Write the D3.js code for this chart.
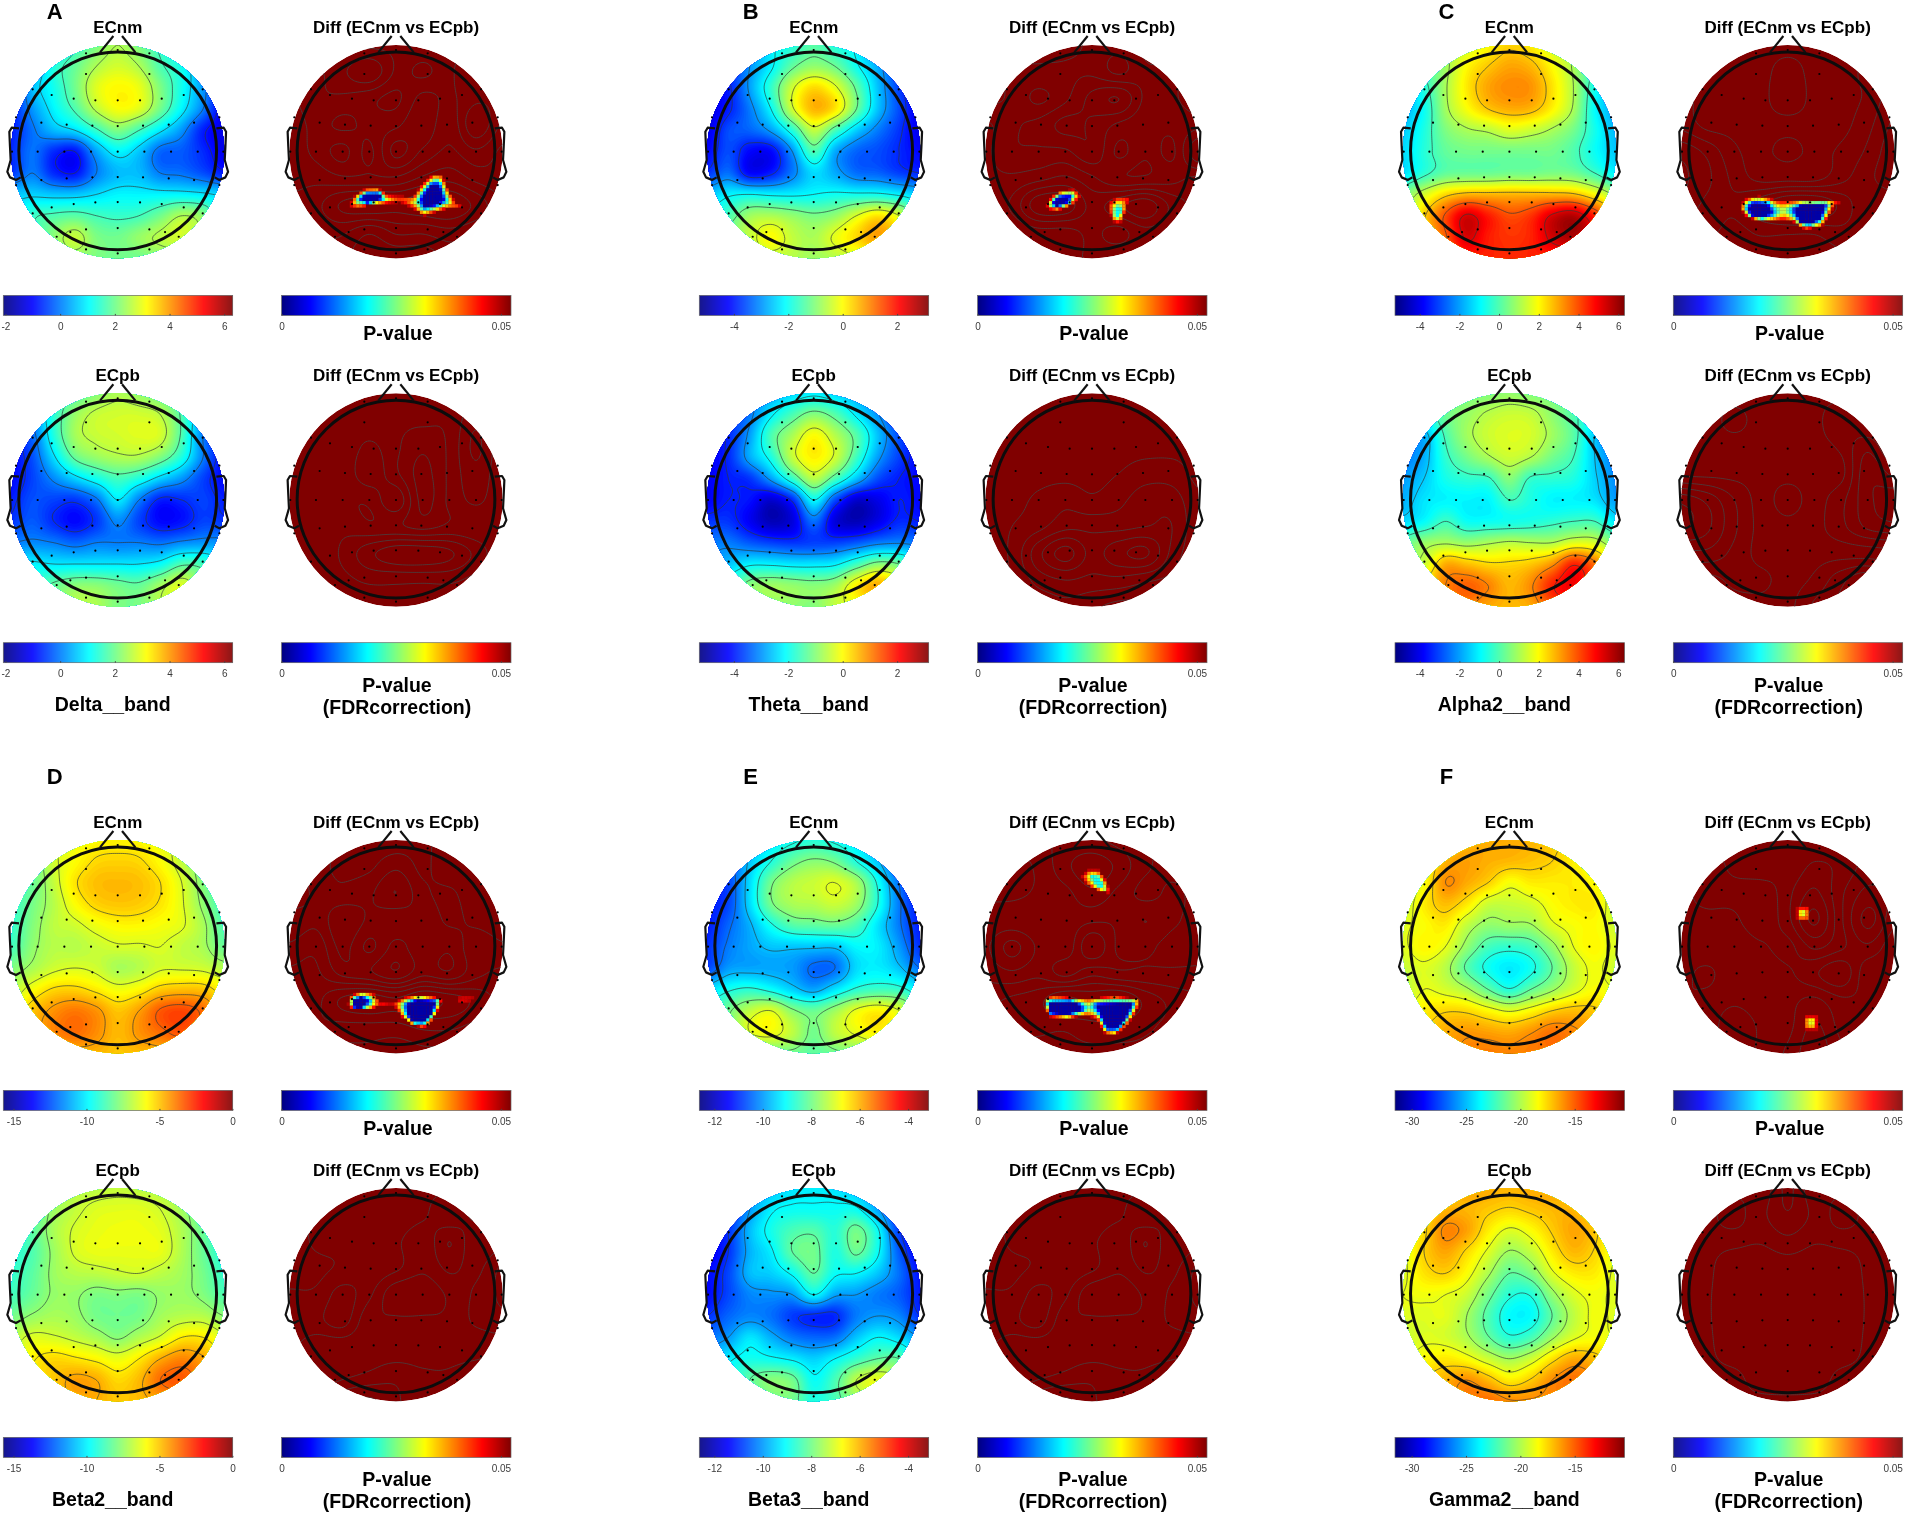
<!DOCTYPE html>
<html>
<head>
<meta charset="utf-8">
<script src="https://cdn.jsdelivr.net/npm/d3@7"></script>
<style>
  body { margin: 0; background: #fff; }
  svg { filter: blur(0.35px); }
  text { font-family: "Liberation Sans", Arial, sans-serif; fill: #000; }
</style>
</head>
<body>
<svg id="chart" width="1905" height="1515"></svg>
<script>
// bands
const panelLetters = ["A", "B", "C", "D", "E", "F"];
const bandNames = ["Delta__band", "Theta__band", "Alpha2__band", "Beta2__band", "Beta3__band", "Gamma2__band"];
const bandDomains = [[-2.08, 6.31], [-5.27, 3.16], [-5.24, 6.31], [-15.7, 0.02], [-12.62, -3.15], [-31.53, -10.43]];
const bandTicks = [[-2, 0, 2, 4, 6], [-4, -2, 0, 2], [-4, -2, 0, 2, 4, 6], [-15, -10, -5, 0], [-12, -10, -8, -6, -4], [-30, -25, -20, -15]];
const pDomain = [0, 0.0523];
const pTicks = [0, 0.05];

// scalp values, 11 x 11 samples across the disc, top row = nose side
const deltaNm = [
  [0, 0.3, 0.8, 1.5, 2.1, 2.5, 2.1, 1.5, 1, 0.4, 0],
  [-0.5, 0.2, 1.3, 1.9, 2.5, 2.8, 2.5, 1.7, 1.2, 0.2, -0.5],
  [-1, 0.5, 1.2, 2, 2.9, 3.2, 3, 2.1, 1.2, 0.2, -1],
  [-0.8, 0.2, 1, 1.7, 2.6, 3.1, 2.9, 2, 1, 0, -1.2],
  [-0.8, -0.1, 0.5, 0.8, 1.5, 2.1, 1.6, 0.9, 0.2, -0.8, -1.2],
  [-0.7, -0.1, -0.7, -0.9, 0.3, 1, 0.6, -0.2, -0.3, -0.7, -1.2],
  [-0.6, 0, -0.7, -0.9, 0, 0.5, 0.5, 0, -0.1, -0.4, -0.8],
  [0.6, 0.7, 0.6, 0.6, 0.8, 1, 1, 1, 1, 0.9, 0.7],
  [0.8, 1.5, 1.7, 1.8, 1.6, 1.5, 1.6, 2, 2.5, 2.2, 1],
  [1.2, 1.5, 2.2, 2.7, 2.1, 2, 2.3, 2.6, 2.8, 2.3, 1.5],
  [1.5, 1.8, 2, 2.3, 2.1, 2, 2, 2.2, 2.2, 2, 1.8]
];
const deltaPb = [
  [0.8, 1, 1.4, 1.8, 2.2, 2.5, 2.3, 2, 1.6, 1, 0.8],
  [-0.3, 0.2, 1.4, 2.3, 2.7, 2.8, 2.8, 2.6, 1.7, 0.3, -0.4],
  [-0.8, -0.2, 1.3, 2.4, 2.7, 2.8, 2.9, 2.8, 1.7, 0, -0.8],
  [-1, -0.4, 0.8, 1.9, 2.3, 2.5, 2.5, 2.1, 1.3, 0, -1],
  [-1, -0.5, 0.1, 0.7, 1.2, 1.6, 1.3, 0.7, 0.2, -0.5, -1],
  [-0.8, -0.4, -0.5, -0.6, -0.1, 0.9, 0, -0.8, -0.7, -0.5, -0.8],
  [-0.6, -0.3, -0.7, -1, -0.6, 0.1, -0.5, -1, -0.9, -0.5, -0.6],
  [0, 0.1, 0, -0.2, 0, 0, 0, -0.1, 0.1, 0.2, 0.2],
  [1, 1, 0.9, 0.9, 0.9, 0.9, 0.9, 1.1, 1.7, 1.6, 1],
  [1.5, 1.5, 1.9, 2.2, 2.2, 2, 1.9, 2.4, 2.9, 2.2, 1.5],
  [1.8, 1.9, 2.1, 2.6, 2.5, 2.1, 2.1, 2.6, 2.9, 2.4, 1.8]
];
const thetaNm = [
  [-4, -3.8, -3, -2.2, -1.8, -1.4, -1.8, -2.2, -3, -3.8, -4],
  [-4, -3.8, -3, -2.2, -1.3, -0.9, -1.2, -2, -2.8, -3.7, -4.2],
  [-4.3, -4, -2.9, -1.7, -0.4, 0.3, -0.2, -1.3, -2.6, -3.7, -4.4],
  [-4.5, -4, -3.2, -2.1, -0.4, 0.6, 0.2, -1.2, -2.6, -3.6, -4.4],
  [-4.4, -3.6, -3.4, -2.9, -1.8, -0.5, -1.5, -2.5, -3.2, -3.8, -4.4],
  [-4.2, -3.6, -4.2, -4.2, -3, -1.5, -2.8, -3.4, -3.6, -3.9, -4.2],
  [-3.8, -3.3, -4.2, -4, -3.2, -2.4, -2.8, -3.3, -3.4, -3.7, -3.9],
  [-2.6, -2.2, -2.1, -2.2, -2.2, -2.1, -2, -2, -2, -2.2, -2.5],
  [-2, -1.5, -0.8, -0.7, -0.9, -1.1, -0.9, -0.3, 0.2, -0.3, -1.5],
  [-1.5, -1, -0.5, 0, -0.5, -0.7, -0.2, 0.3, 0.8, 0.3, -1],
  [-1.2, -1, -0.7, -0.5, -0.6, -0.8, -0.6, -0.3, 0, -0.5, -1]
];
const thetaPb = [
  [-3.8, -3.6, -3.2, -2.8, -2.4, -2.2, -2.4, -2.8, -3.2, -3.6, -3.8],
  [-4.1, -3.8, -3.2, -2.2, -1.5, -1, -1.4, -2.2, -3, -3.7, -4.1],
  [-4.3, -3.9, -2.9, -1.5, -0.7, 0, -0.6, -1.4, -2.6, -3.6, -4.2],
  [-4.3, -3.9, -2.8, -1.9, -0.5, 0.1, -0.4, -1.6, -2.9, -3.7, -4.2],
  [-4.3, -4, -3.8, -2.9, -1.7, -0.6, -1.5, -2.6, -3.6, -4, -4.2],
  [-4.3, -4, -4.1, -4.6, -3.9, -2.1, -3.6, -4.6, -4.4, -4, -4.2],
  [-3.8, -3.8, -4.3, -4.8, -4.5, -3.3, -4.5, -4.8, -4.4, -3.9, -4],
  [-3.2, -3.2, -3.5, -3.7, -3.8, -3.7, -3.7, -3.5, -3.2, -3.1, -3.2],
  [-3, -2.6, -2.2, -2.2, -2.3, -2.3, -2.2, -1.6, -1, -1.2, -2],
  [-2, -1.7, -1, -0.8, -0.9, -1, -0.8, 0.1, 0.7, 0, -1.5],
  [-1.5, -1.3, -1.1, -0.9, -0.9, -1, -0.5, -0.1, 0.2, -0.6, -1.2]
];
const alphaNm = [
  [0, 0.5, 1, 1.5, 2, 2.5, 2.2, 1.5, 1, 0.3, -0.3],
  [-0.8, 0, 0.9, 2, 2.6, 3, 2.8, 2, 1, -0.2, -1],
  [-1.6, -0.5, 1, 2.2, 3, 3.3, 3.2, 2.3, 1.1, -0.7, -1.7],
  [-1.8, -0.8, 0.9, 1.9, 2.6, 2.9, 2.8, 2.1, 1, -0.9, -1.9],
  [-1.5, -0.6, 0.5, 1, 1.2, 1.6, 1.4, 1, 0.4, -0.7, -1.7],
  [-1.3, -0.5, 0.2, 0.4, 0.4, 0.4, 0.4, 0.4, 0, -0.8, -1.5],
  [-1.2, -0.4, 0.2, 0.3, 0.3, 0.4, 0.4, 0.5, 0.4, -0.2, -1],
  [0.5, 1.5, 2.4, 2.8, 2.8, 2.8, 2.8, 2.8, 2.7, 2, 1],
  [1, 2.5, 4, 5.3, 4.6, 4, 4.3, 5.3, 5.7, 4.5, 3],
  [1.5, 2.5, 3.8, 5.3, 4.6, 4.3, 4.5, 5.4, 5.8, 5, 3],
  [2.5, 3, 3.7, 4.4, 4.5, 4.4, 4.5, 4.5, 4.5, 3.5, 2.5]
];
const alphaPb = [
  [-0.3, 0, 0.3, 0.5, 0.6, 0.8, 0.6, 0.5, 0.3, 0, -0.3],
  [-1.5, -0.7, 0.3, 0.8, 1.2, 1.4, 1.3, 0.7, 0, -0.8, -1.5],
  [-2.2, -1.8, -0.1, 0.9, 1.4, 1.6, 1.5, 0.9, 0.1, -1.5, -2.3],
  [-2.4, -1.8, -0.4, 0.4, 1, 1.4, 1.1, 0.4, -0.2, -1.5, -2.4],
  [-2, -1.5, -0.7, -0.4, -0.3, 0.6, -0.3, -0.4, -0.6, -1.4, -2.2],
  [-1.8, -1.2, -1, -1, -1, -0.2, -0.6, -1, -1, -1.2, -2],
  [-1.3, -0.9, -0.2, -0.8, -0.8, -0.7, -0.6, -0.4, -0.2, -0.2, -1.1],
  [0.2, 0.8, 1, 0.8, 1, 1.2, 1.1, 1.1, 1.6, 1.5, 0.5],
  [1, 1.4, 2.9, 2.7, 2.4, 2.4, 2.6, 3.2, 4.5, 3.6, 2],
  [2, 2.5, 3.4, 3.8, 3.4, 2.8, 3.3, 4.5, 5, 4, 2.5],
  [2.5, 2.8, 3.3, 3.5, 3, 2.8, 3, 4, 4.5, 3.5, 2.5]
];
const beta2Nm = [
  [-7.5, -7, -6.5, -6.1, -5.8, -5.7, -5.8, -6.1, -6.6, -7.2, -7.6],
  [-8.5, -8, -6.6, -5.9, -5.3, -5.2, -5.3, -5.9, -6.8, -7.8, -8.5],
  [-8.8, -8.2, -6.8, -5.5, -4.9, -4.8, -4.9, -5.4, -6.4, -7.8, -8.8],
  [-9, -8, -7, -5.9, -5.2, -5, -5.1, -5.5, -6.3, -7.6, -8.8],
  [-9, -7.8, -6.9, -6.6, -6.1, -5.8, -5.8, -6, -6.3, -7.2, -8.6],
  [-8.8, -7.6, -7, -7, -6.7, -6.5, -6.5, -6.4, -6.8, -7.2, -8.2],
  [-7.8, -7.2, -6.6, -6.4, -6.6, -7.2, -7, -6.5, -6.5, -6.6, -7],
  [-7, -6, -5.3, -5.2, -5.6, -6.1, -5.8, -5.1, -4.9, -5, -5.8],
  [-6, -5, -4.2, -3.8, -4.2, -5, -4.4, -3.3, -3, -3.6, -5],
  [-5.5, -4.8, -4, -3.6, -4.1, -4.8, -4.2, -3.6, -3.2, -4, -5],
  [-6, -5.5, -5, -4.7, -4.7, -5, -4.8, -4.7, -4.4, -5, -6]
];
const beta2Pb = [
  [-7.6, -7.4, -7.2, -7, -6.9, -6.8, -6.9, -7, -7.2, -7.4, -7.6],
  [-8.5, -8.2, -7.4, -6.8, -6.4, -6.3, -6.3, -6.6, -7.3, -8.2, -8.8],
  [-9, -8.4, -7.2, -6.5, -6.2, -6.1, -6.1, -6.3, -7.1, -8.2, -9],
  [-9.2, -8.6, -7.4, -6.5, -6.2, -6.2, -6.2, -6.2, -7.1, -8.2, -9.2],
  [-9, -8.4, -7.4, -7, -6.9, -6.7, -6.6, -6.9, -7.3, -8, -9],
  [-8.8, -8.2, -7.5, -7.5, -7.9, -7.8, -7.9, -7.5, -7.4, -7.8, -8.6],
  [-8, -7.5, -7.2, -7.4, -8, -8.1, -8, -7.3, -7, -7, -7.6],
  [-7, -6.4, -6.5, -6.8, -7.2, -7.7, -7.1, -6.5, -5.6, -5.6, -6.4],
  [-6.5, -5.7, -5.3, -5.5, -5.8, -6.2, -5.6, -4.6, -4, -4.5, -5.5],
  [-6, -5.5, -5, -4.4, -4.6, -5.3, -4.8, -3.6, -3.3, -4, -5.2],
  [-6, -5.5, -5, -4.6, -4.6, -5, -4.8, -4.4, -4, -4.6, -5.5]
];
const beta3Nm = [
  [-10.4, -10, -9.6, -9.2, -8.9, -8.7, -8.9, -9.2, -9.6, -10, -10.6],
  [-11, -10.6, -9.6, -8.8, -8.1, -7.8, -8, -8.8, -9.6, -10.6, -11.2],
  [-11.2, -10.8, -9.4, -8, -7.4, -7.2, -7, -7.5, -8.9, -10.4, -11.3],
  [-11.2, -10.8, -9.4, -8, -7.5, -7.4, -7.2, -7.6, -8.8, -10.3, -11.2],
  [-11.2, -10.5, -9.8, -8.9, -8.3, -8.2, -8.1, -8.4, -9.3, -10.3, -11.2],
  [-11, -10.3, -9.9, -9.6, -9.6, -9.6, -9.6, -9.1, -9.2, -10, -11],
  [-10.8, -10, -9.9, -9.9, -10, -10.5, -10.4, -9.4, -9.2, -9.6, -10.4],
  [-9.4, -8.9, -8.7, -9, -9.5, -9.9, -9.3, -8.7, -8.5, -8.6, -9.2],
  [-8.6, -8, -7.3, -7, -7.8, -8.1, -7.6, -6.9, -6.6, -7, -8],
  [-8.5, -8, -7, -6.8, -7.3, -8, -7.3, -6.9, -6.6, -7, -8],
  [-9, -8.6, -8.2, -8, -8, -8.2, -8, -7.8, -7.6, -8, -8.8]
];
const beta3Pb = [
  [-10.4, -10.2, -10, -9.6, -9.3, -9.2, -9.3, -9.6, -10, -10.4, -10.8],
  [-11.4, -11, -10, -9.2, -9, -9, -9, -9, -9.9, -11, -11.5],
  [-11.6, -11, -9.7, -8.9, -8.4, -8.3, -8.7, -8, -9, -10.9, -11.6],
  [-11.6, -11, -9.8, -9.2, -8.2, -8, -8.8, -8.1, -9, -10.6, -11.5],
  [-11.4, -10.8, -9.7, -9.5, -9, -8.2, -9, -9.1, -9.6, -10.4, -11.3],
  [-11.4, -10.8, -10.2, -10.1, -10, -9.1, -9.9, -10, -10.3, -10.6, -11.2],
  [-11, -10.5, -10.2, -10.4, -10.9, -11.1, -11.1, -10.3, -10, -10.2, -11],
  [-10.4, -10, -9.3, -9.8, -10.3, -10.5, -10.4, -9.6, -9.1, -9.4, -10],
  [-9.6, -9.2, -8.9, -9, -9.2, -9.5, -9.1, -8.6, -8.2, -8.2, -9.2],
  [-9.2, -8.9, -8.2, -7.8, -8, -9, -8.4, -7.3, -6.9, -7.4, -8.6],
  [-9.2, -9, -8.6, -8, -8, -8.8, -8.4, -7.7, -7.3, -8, -9]
];
const gammaNm = [
  [-18.5, -18, -17.2, -16.8, -16.6, -16.6, -16.8, -17.2, -17.6, -18, -18.8],
  [-19, -18.5, -16.8, -16.4, -16.7, -16.9, -17.1, -17.4, -18, -18.4, -19],
  [-19.5, -18.5, -16, -16.6, -17.4, -18.5, -18, -18, -18, -18.3, -19.3],
  [-19.5, -18, -17, -17.9, -19.4, -19.5, -19.2, -18.4, -18, -18, -19.5],
  [-19, -18.4, -18, -19.6, -20.6, -20.4, -20.3, -19, -18.5, -18.3, -19.4],
  [-19, -18.2, -18.8, -20.6, -22.2, -22.6, -22.2, -20.6, -18.8, -18.2, -19],
  [-19.5, -19, -19.8, -21.8, -23.3, -24, -23.3, -21.6, -19.6, -18.6, -19.4],
  [-19.8, -18.8, -19.2, -20, -21.6, -22.9, -21.6, -20.4, -19.2, -18.4, -18.8],
  [-18.8, -18, -17.5, -17.6, -18.3, -18.9, -18.3, -17.4, -17, -17.2, -18],
  [-18, -17.4, -16.6, -16.2, -16.4, -16.6, -16.1, -15.4, -15.8, -16.5, -17.5],
  [-17.5, -17, -16.4, -15.8, -15.6, -15.8, -15.6, -15.4, -15.8, -16.5, -17.5]
];
const gammaPb = [
  [-18, -17.5, -17, -16.6, -16.6, -16.8, -16.6, -16.6, -17, -17.5, -18],
  [-18.5, -17.6, -16.8, -16.8, -17.2, -17.5, -17.2, -16.9, -16.8, -17.6, -18.5],
  [-18.8, -17.6, -15.8, -16.4, -18, -19, -18.4, -17.3, -16.5, -17.2, -18.8],
  [-19, -17.4, -16.5, -17.6, -19, -20.3, -19.6, -18, -16.9, -17.5, -18.8],
  [-19, -17.8, -17.4, -18.4, -20, -21.6, -21, -19, -18, -18, -19],
  [-18.8, -18.6, -18.8, -19.4, -21.2, -22.8, -22.9, -20.6, -19.1, -18.6, -19],
  [-19, -19, -18.9, -20.2, -22, -23.6, -23.6, -21.6, -19.7, -18.6, -19],
  [-19.5, -19, -19.2, -20, -21.5, -22.8, -22.2, -20.4, -19, -18.5, -18.8],
  [-18.8, -18.3, -17.9, -18.4, -19.4, -20.2, -19.4, -17.8, -16.6, -17, -18],
  [-17.8, -17.3, -16.7, -16, -16.9, -18, -17.3, -16, -15.4, -16, -17.3],
  [-17.5, -17, -16.4, -15.6, -15.3, -15.9, -15.9, -15.8, -16, -16.8, -17.5]
];

// contour levels of each scalp map
const deltaNmLevels = [-0.9, 0, 0.8, 1.6, 2.5];
const deltaPbLevels = [-0.7, 0, 0.9, 1.8, 2.6];
const thetaNmLevels = [-3.9, -3, -2.1, -1.2, -0.3];
const thetaPbLevels = [-4, -3.05, -2.1, -1.2, -0.3];
const alphaNmLevels = [-0.2, 1.1, 2.6, 3.9, 5.2];
const alphaPbLevels = [-1.5, -0.2, 1.1, 2.3, 3.4, 4.6];
const beta2NmLevels = [-7.4, -6.4, -5.4, -4.4, -3.4];
const beta2PbLevels = [-7.6, -6.6, -5.6, -4.6, -3.6];
const beta3NmLevels = [-10.4, -9.7, -8.8, -7.9, -7];
const beta3PbLevels = [-11, -10, -9.1, -8.2, -7.3];
const gammaNmLevels = [-23, -21.6, -20.2, -18.8, -17.4, -16];
const gammaPbLevels = [-23, -21.6, -20.2, -18.8, -17.4, -16];

// p-value surfaces of the Diff maps (in percent), 9 x 9 samples across the disc
const deltaDiffTop = [
  [60, 60, 50, 50, 50, 50, 50, 50, 50],
  [50, 50, 60, 70, 50, 40, 50, 60, 60],
  [40, 50, 50, 45, 40, 55, 50, 60, 60],
  [35, 45, 40, 45, 50, 60, 45, 70, 50],
  [35, 45, 55, 40, 65, 50, 40, 50, 40],
  [35, 35, 40, 40, 40, 30, 25, 35, 40],
  [30, 25, 10, 5, 10, 5, 2, 15, 30],
  [30, 30, 30, 40, 30, 30, 25, 30, 35],
  [30, 30, 40, 50, 50, 50, 40, 40, 40]
];
const deltaDiffBottom = [
  [50, 50, 50, 50, 50, 50, 50, 50, 50],
  [50, 50, 50, 50, 50, 50, 50, 35, 50],
  [50, 50, 50, 40, 50, 60, 50, 30, 50],
  [50, 50, 50, 35, 50, 65, 50, 35, 50],
  [50, 42, 50, 50, 35, 65, 50, 40, 50],
  [50, 50, 45, 50, 50, 55, 50, 50, 50],
  [50, 50, 40, 25, 15, 15, 20, 35, 50],
  [50, 50, 45, 40, 40, 40, 40, 45, 50],
  [50, 50, 50, 50, 45, 50, 50, 50, 50]
];
const thetaDiffTop = [
  [60, 60, 55, 55, 50, 45, 55, 60, 60],
  [60, 50, 50, 50, 50, 40, 50, 50, 60],
  [55, 50, 40, 50, 65, 72, 50, 50, 60],
  [40, 50, 55, 65, 60, 50, 45, 45, 50],
  [40, 50, 50, 50, 60, 40, 50, 40, 72],
  [40, 40, 35, 30, 40, 50, 50, 45, 40],
  [40, 30, 5, 5, 25, 15, 5, 25, 35],
  [40, 40, 35, 35, 30, 35, 25, 30, 35],
  [40, 40, 35, 35, 30, 25, 25, 25, 30]
];
const thetaDiffBottom = [
  [65, 65, 65, 65, 65, 65, 65, 65, 65],
  [65, 65, 65, 65, 65, 65, 65, 65, 65],
  [65, 65, 65, 65, 65, 65, 65, 65, 65],
  [65, 65, 65, 65, 65, 62, 57, 57, 65],
  [65, 65, 60, 55, 60, 55, 46, 47, 60],
  [65, 62, 55, 45, 45, 45, 42, 42, 60],
  [65, 60, 35, 18, 35, 25, 20, 45, 60],
  [65, 62, 48, 42, 45, 45, 50, 55, 62],
  [65, 65, 60, 55, 60, 65, 65, 65, 65]
];
const alphaDiffTop = [
  [55, 55, 55, 55, 55, 55, 55, 55, 55],
  [55, 55, 55, 55, 48, 55, 55, 50, 45],
  [50, 55, 55, 55, 45, 55, 55, 50, 35],
  [45, 55, 55, 55, 55, 55, 55, 45, 30],
  [25, 35, 50, 55, 48, 55, 50, 40, 25],
  [20, 30, 45, 55, 55, 55, 45, 35, 25],
  [25, 35, 40, 25, 10, 10, 25, 40, 40],
  [40, 40, 45, 40, 40, 40, 35, 40, 45],
  [50, 50, 50, 50, 50, 50, 45, 45, 50]
];
const alphaDiffBottom = [
  [55, 55, 55, 55, 55, 55, 55, 55, 55],
  [55, 55, 50, 55, 55, 55, 45, 55, 55],
  [55, 55, 55, 55, 55, 55, 50, 35, 55],
  [55, 55, 55, 55, 55, 55, 55, 25, 35],
  [15, 25, 42, 55, 48, 55, 45, 25, 15],
  [10, 20, 40, 55, 55, 55, 45, 30, 25],
  [35, 35, 45, 55, 55, 55, 55, 55, 55],
  [55, 55, 50, 50, 55, 50, 35, 25, 45],
  [55, 55, 55, 55, 55, 40, 30, 35, 55]
];
const beta2DiffTop = [
  [60, 60, 50, 45, 45, 50, 55, 55, 55],
  [60, 55, 50, 50, 60, 50, 60, 60, 60],
  [40, 55, 55, 60, 72, 55, 50, 60, 60],
  [60, 55, 70, 60, 55, 60, 50, 55, 60],
  [50, 45, 65, 50, 65, 55, 60, 45, 50],
  [40, 40, 55, 60, 70, 55, 60, 45, 40],
  [40, 35, 20, 15, 20, 10, 15, 25, 35],
  [45, 35, 35, 35, 35, 30, 30, 35, 40],
  [50, 45, 45, 45, 50, 45, 45, 45, 50]
];
const beta2DiffBottom = [
  [60, 60, 50, 50, 50, 50, 50, 50, 60],
  [60, 50, 50, 50, 45, 50, 60, 50, 60],
  [60, 50, 50, 50, 50, 60, 42, 60, 55],
  [60, 55, 50, 45, 50, 60, 50, 55, 40],
  [50, 50, 38, 50, 70, 70, 60, 50, 40],
  [45, 45, 38, 60, 60, 60, 60, 50, 45],
  [50, 60, 60, 60, 60, 60, 60, 60, 55],
  [60, 60, 55, 50, 45, 50, 50, 40, 30],
  [60, 55, 35, 30, 40, 50, 50, 40, 40]
];
const beta3DiffTop = [
  [60, 55, 45, 40, 40, 45, 50, 55, 60],
  [55, 55, 50, 35, 25, 35, 50, 55, 55],
  [55, 55, 50, 45, 35, 45, 55, 50, 55],
  [45, 45, 42, 45, 50, 50, 42, 50, 55],
  [50, 65, 50, 45, 70, 50, 50, 55, 55],
  [45, 50, 45, 55, 45, 50, 50, 50, 50],
  [35, 30, 25, 10, 15, 10, 25, 35, 40],
  [30, 30, 30, 30, 25, 25, 30, 35, 40],
  [35, 35, 35, 35, 35, 35, 35, 40, 45]
];
const beta3DiffBottom = [
  [60, 60, 50, 50, 50, 50, 50, 50, 60],
  [60, 50, 50, 50, 45, 50, 60, 50, 60],
  [60, 50, 50, 50, 50, 60, 42, 60, 55],
  [60, 55, 50, 45, 50, 60, 50, 55, 40],
  [50, 50, 38, 50, 70, 70, 60, 50, 40],
  [45, 45, 38, 60, 60, 60, 60, 50, 45],
  [50, 60, 60, 60, 60, 60, 60, 60, 55],
  [60, 60, 55, 50, 45, 50, 50, 40, 30],
  [60, 55, 35, 30, 40, 50, 50, 40, 40]
];
const gammaDiffTop = [
  [50, 50, 50, 50, 50, 50, 50, 50, 50],
  [50, 55, 50, 45, 50, 40, 45, 55, 50],
  [50, 55, 55, 60, 45, 30, 50, 65, 60],
  [50, 50, 50, 60, 45, 20, 50, 75, 55],
  [45, 50, 45, 50, 55, 40, 50, 60, 45],
  [45, 40, 50, 45, 50, 60, 70, 45, 45],
  [40, 45, 50, 45, 45, 40, 50, 50, 50],
  [35, 45, 60, 50, 45, 30, 45, 50, 45],
  [40, 45, 55, 50, 40, 25, 40, 45, 45]
];
const gammaDiffBottom = [
  [50, 50, 50, 50, 30, 50, 50, 50, 50],
  [50, 50, 55, 45, 33, 45, 55, 50, 50],
  [50, 50, 50, 51, 45, 51, 50, 50, 50],
  [50, 50, 60, 60, 58, 60, 60, 50, 50],
  [50, 51, 60, 60, 60, 60, 60, 51, 50],
  [50, 51, 60, 60, 60, 60, 60, 51, 50],
  [50, 50, 60, 60, 60, 60, 60, 50, 50],
  [50, 50, 50, 58, 60, 58, 50, 50, 50],
  [50, 50, 50, 50, 50, 50, 50, 50, 50]
];
const diffLevels = [12, 22, 32, 42, 52, 62, 72];

// significant clusters (p < 0.05): outline, deepest parts and the p reached there.
// head coordinates, -320..320 across the disc
const deltaClusters = [{
  outer: [[-140,162],[-126,135],[-93,112],[-53,110],[-28,130],[12,133],[52,135],[77,100],[112,67],[137,70],[157,115],[177,150],[207,170],[157,170],[122,180],[82,193],[52,170],[12,152],[-28,155],[-78,160],[-118,170]],
  cores: [[[-105,140],[-85,128],[-50,128],[-45,140],[-85,152]], [[78,140],[108,100],[128,100],[142,145],[115,160],[85,165]]],
  p: 0.002
}];
const thetaClusters = [{
  outer: [[-136,160],[-121,135],[-91,117],[-51,113],[-36,135],[-61,160],[-101,175],[-131,173]],
  cores: [[[-115,155],[-98,137],[-68,135],[-72,150],[-105,163]]],
  p: 0.002
}, {
  outer: [[49,155],[74,137],[114,135],[104,165],[89,210],[69,215],[54,185]],
  cores: [[[70,175],[80,165],[88,175],[78,195],[70,195]]],
  p: 0.02
}];
const alphaClusters = [{
  outer: [[-143,170],[-130,143],[-88,133],[-28,147],[32,148],[92,145],[192,145],[142,157],[127,185],[102,225],[52,233],[17,210],[-18,205],[-78,210],[-123,195]],
  cores: [[[-118,170],[-103,155],[-62,158],[-48,185],[-78,195],[-108,190]], [[22,175],[42,160],[112,160],[97,200],[67,215],[37,210]]],
  p: 0.002
}];
const beta2Clusters = [{
  outer: [[-145,170],[-133,145],[-98,135],[-68,140],[-48,165],[-13,172],[27,152],[72,145],[137,155],[132,180],[102,230],[82,243],[52,235],[17,210],[-3,180],[-48,175],[-78,190],[-128,190]],
  cores: [[[-125,162],[-103,152],[-85,165],[-103,183],[-125,180]], [[34,175],[62,162],[117,165],[107,200],[82,225],[52,225],[37,205]]],
  p: 0.002
}, {
  outer: [[182,152],[232,152],[232,162],[187,165]],
  cores: [[[197,156],[217,156],[217,159],[197,159]]],
  p: 0.042
}];
const beta3Clusters = [{
  outer: [[-31,-210],[-11,-230],[19,-230],[44,-195],[54,-160],[24,-165],[-16,-185]],
  cores: [[[0,-210],[19,-208],[36,-175],[14,-185]]],
  p: 0.02
}, {
  outer: [[-143,160],[-121,148],[-41,155],[-1,155],[69,148],[144,158],[134,190],[109,230],[69,265],[39,260],[14,215],[-21,205],[-71,215],[-131,210]],
  cores: [[[-131,170],[-65,165],[-40,175],[-30,188],[-75,203],[-125,198]], [[15,175],[120,170],[105,205],[78,245],[46,245],[30,210]]],
  p: 0.002
}];
const gammaClusters = [{
  outer: [[28,-118],[64,-118],[64,-80],[28,-80]],
  cores: [[[40,-106],[52,-106],[52,-92],[40,-92]]],
  p: 0.031
}, {
  outer: [[50,208],[88,208],[88,249],[50,249]],
  cores: [[[62,221],[76,221],[76,235],[62,235]]],
  p: 0.031
}];

// electrode positions, head coordinates, right half mirrored when drawn
const sensorsMid = [[0,-305],[0,-154],[0,-77],[0,0],[0,76],[0,151],[0,229],[0,305]];
const sensorsSide = [
  [95,-295],[95,-233],[198,-170],[132,-159],[67,-154],[255,-187],
  [229,-87],[153,-81],[76,-78],[305,-103],
  [317,0],[240,0],[160,0],[80,0],
  [229,85],[153,80],[76,77],[305,100],
  [198,167],[132,157],[67,152],[255,185],
  [95,233],[142,241],[183,255],[95,293]
];
const earLine = [[296,-70],[318,-72],[325,-60],[323,-15],[321,25],[331,60],[323,77],[305,85],[291,77]];
const noseLine = [[-53,-298],[-13,-347]];

const maps = [
  { nm: deltaNm, pb: deltaPb, nmLv: deltaNmLevels, pbLv: deltaPbLevels, dt: deltaDiffTop, db: deltaDiffBottom, cl: deltaClusters },
  { nm: thetaNm, pb: thetaPb, nmLv: thetaNmLevels, pbLv: thetaPbLevels, dt: thetaDiffTop, db: thetaDiffBottom, cl: thetaClusters },
  { nm: alphaNm, pb: alphaPb, nmLv: alphaNmLevels, pbLv: alphaPbLevels, dt: alphaDiffTop, db: alphaDiffBottom, cl: alphaClusters },
  { nm: beta2Nm, pb: beta2Pb, nmLv: beta2NmLevels, pbLv: beta2PbLevels, dt: beta2DiffTop, db: beta2DiffBottom, cl: beta2Clusters },
  { nm: beta3Nm, pb: beta3Pb, nmLv: beta3NmLevels, pbLv: beta3PbLevels, dt: beta3DiffTop, db: beta3DiffBottom, cl: beta3Clusters },
  { nm: gammaNm, pb: gammaPb, nmLv: gammaNmLevels, pbLv: gammaPbLevels, dt: gammaDiffTop, db: gammaDiffBottom, cl: gammaClusters }
];

const svg = d3.select("#chart");
const radius = 106.7,
  gridSize = 108,
  pixelCount = 67,
  fillSteps = 120;
const head = d3.scaleLinear().domain([-320, 320]).range([-radius, radius]);
const pixelBand = d3.scaleBand().domain(d3.range(pixelCount)).range([-320, 320]);
const toDisc = d3.scaleLinear().domain([0.5, gridSize - 0.5]).range([-radius, radius]);
const gridPath = d3.geoPath(d3.geoTransform({
  point(x, y) { this.stream.point(toDisc(x), toDisc(y)); }
}));

function jet(t) {
  const c = v => Math.round(255 * Math.max(0, Math.min(1, v)));
  return `rgb(${c(1.5 - Math.abs(4 * t - 3))},${c(1.5 - Math.abs(4 * t - 2))},${c(1.5 - Math.abs(4 * t - 1))})`;
}

// resample a coarse grid to the contour grid (Catmull-Rom)
function resample(grid) {
  const g = grid.length,
    out = new Float64Array(gridSize * gridSize),
    at = (r, c) => grid[Math.max(0, Math.min(g - 1, r))][Math.max(0, Math.min(g - 1, c))],
    cr = (a, b, c, d, t) => 0.5 * (2 * b + (c - a) * t + (2 * a - 5 * b + 4 * c - d) * t * t + (3 * b - a - 3 * c + d) * t * t * t);
  for (let j = 0; j < gridSize; j++) {
    const v = j / (gridSize - 1) * (g - 1), r = Math.min(g - 2, Math.floor(v)), tv = v - r;
    for (let i = 0; i < gridSize; i++) {
      const u = i / (gridSize - 1) * (g - 1), q = Math.min(g - 2, Math.floor(u)), tu = u - q;
      const row = k => cr(at(r + k, q - 1), at(r + k, q), at(r + k, q + 1), at(r + k, q + 2), tu);
      out[j * gridSize + i] = cr(row(-1), row(0), row(1), row(2), tv);
    }
  }
  return out;
}

function distToRing(pt, ring) {
  let best = Infinity;
  ring.forEach((a, i) => {
    const b = ring[(i + 1) % ring.length],
      dx = b[0] - a[0], dy = b[1] - a[1],
      t = Math.max(0, Math.min(1, ((pt[0] - a[0]) * dx + (pt[1] - a[1]) * dy) / (dx * dx + dy * dy)));
    best = Math.min(best, Math.hypot(pt[0] - a[0] - t * dx, pt[1] - a[1] - t * dy));
  });
  return best;
}

function clusterP(pt, cl) {
  if (!d3.polygonContains(cl.outer, pt)) return null;
  if (cl.cores.some(r => d3.polygonContains(r, pt))) return cl.p;
  const dOut = distToRing(pt, cl.outer),
    dCore = d3.min(cl.cores, r => distToRing(pt, r));
  return cl.p + (0.05 - cl.p) * dCore / (dCore + dOut);
}

let clipCount = 0;
function drawDisc(g) {
  const id = "disc" + clipCount++;
  g.append("clipPath").attr("id", id).append("circle").attr("r", radius);
  return g.append("g").attr("clip-path", `url(#${id})`);
}

function drawHead(g) {
  const line = d3.line().x(d => head(d[0])).y(d => head(d[1]));
  const dots = sensorsMid.concat(sensorsSide, sensorsSide.map(d => [-d[0], d[1]]));
  g.selectAll(".sensor").data(dots).enter().append("circle")
    .attr("class", "sensor")
    .attr("cx", d => head(d[0]))
    .attr("cy", d => head(d[1]))
    .attr("r", 1.1)
    .attr("fill", "#000");
  g.append("circle")
    .attr("cy", head(-2.5))
    .attr("r", head(296.5))
    .attr("fill", "none").attr("stroke", "#0c0c0c").attr("stroke-width", 3);
  const mirrored = pts => pts.map(d => [-d[0], d[1]]);
  [noseLine, mirrored(noseLine), earLine, mirrored(earLine)].forEach(pts => {
    g.append("path")
      .attr("d", line(pts))
      .attr("fill", "none")
      .attr("stroke", "#111")
      .attr("stroke-width", 2.2)
      .attr("stroke-linejoin", "round");
  });
}

function drawScalp(cx, cy, grid, levels, domain) {
  const g = svg.append("g").attr("transform", `translate(${cx},${cy})`),
    disc = drawDisc(g),
    values = resample(grid),
    color = d3.scaleSequential(jet).domain(domain).clamp(true),
    step = (domain[1] - domain[0]) / fillSteps,
    steps = d3.range(fillSteps).map(i => domain[0] + i * step);
  disc.append("circle").attr("r", radius).attr("fill", color(d3.min(values)));
  disc.selectAll(".fill")
    .data(d3.contours().size([gridSize, gridSize]).thresholds(steps)(values))
    .enter().append("path")
    .attr("d", gridPath)
    .attr("fill", d => color(d.value + step / 2));
  disc.selectAll(".iso")
    .data(d3.contours().size([gridSize, gridSize]).thresholds(levels)(values))
    .enter().append("path")
    .attr("d", gridPath)
    .attr("fill", "none")
    .attr("stroke", "#2e3a3a")
    .attr("stroke-opacity", 0.85)
    .attr("stroke-width", 0.8);
  drawHead(g);
}

function drawDiff(cx, cy, grid, clusters) {
  const g = svg.append("g").attr("transform", `translate(${cx},${cy})`),
    disc = drawDisc(g),
    color = d3.scaleSequential(jet).domain(pDomain).clamp(true);
  disc.append("circle").attr("r", radius).attr("fill", color(pDomain[1]));
  disc.selectAll(".iso")
    .data(d3.contours().size([gridSize, gridSize]).thresholds(diffLevels)(resample(grid)))
    .enter().append("path")
    .attr("d", gridPath)
    .attr("fill", "none")
    .attr("stroke", "#4e3a3a")
    .attr("stroke-width", 0.9);
  clusters.forEach(cl => {
    const xs = cl.outer.map(d => d[0]), ys = cl.outer.map(d => d[1]);
    pixelBand.domain().forEach(r => pixelBand.domain().forEach(c => {
      const pt = [pixelBand(c) + pixelBand.bandwidth() / 2, pixelBand(r) + pixelBand.bandwidth() / 2];
      if (pt[0] < d3.min(xs) || pt[0] > d3.max(xs) || pt[1] < d3.min(ys) || pt[1] > d3.max(ys)) return;
      const p = clusterP(pt, cl);
      if (p === null) return;
      disc.append("rect")
        .attr("x", head(pixelBand(c)))
        .attr("y", head(pixelBand(r)))
        .attr("width", head(pixelBand.bandwidth()) + 0.15)
        .attr("height", head(pixelBand.bandwidth()) + 0.15)
        .attr("fill", color(p));
    }));
  });
  drawHead(g);
}

function drawBar(x0, y0, domain, ticks) {
  const w = 229.4, h = 20,
    x = d3.scaleLinear().domain(domain).range([0, w]),
    color = d3.scaleSequential(jet).domain(domain),
    g = svg.append("g").attr("transform", `translate(${x0},${y0})`);
  g.selectAll(".cell").data(d3.range(0, w, 1)).enter().append("rect")
    .attr("x", d => d)
    .attr("width", d => Math.min(1.4, w - d))
    .attr("height", h)
    .attr("fill", d => color(x.invert(d + 0.5)));
  g.append("rect")
    .attr("width", w).attr("height", h)
    .attr("fill", "none").attr("stroke", "#6a6a6a").attr("stroke-width", 0.7);
  const axis = g.append("g")
    .attr("transform", `translate(0,${h})`)
    .call(d3.axisBottom(x).tickValues(ticks).tickSize(-1.5).tickFormat(d => String(d)));
  axis.select(".domain").remove();
  axis.selectAll("line").attr("stroke", "#444");
  axis.selectAll("text")
    .attr("y", 11)
    .attr("dy", null)
    .attr("dominant-baseline", "central")
    .style("font-size", "10px")
    .style("fill", "#3c3c3c")
    .style("font-family", '"Liberation Sans", Arial, sans-serif');
}

function label(x, y, text, size) {
  svg.append("text")
    .attr("x", x).attr("y", y)
    .attr("text-anchor", "middle")
    .attr("dominant-baseline", "central")
    .attr("font-weight", "bold")
    .attr("font-size", size)
    .text(text);
}

const colOffsets = [0, 696, 1391.7],
  leftX = 117.7,
  rightX = 396,
  rowCenters = [[151.7, 500], [946.7, 1294.7]],
  letterY = [11, 776];

maps.forEach((m, i) => {
  const off = colOffsets[i % 3],
    block = Math.floor(i / 3),
    [cyTop, cyBottom] = rowCenters[block],
    lx = leftX + off,
    rx = rightX + off,
    domain = bandDomains[i];

  label(lx - 63, letterY[block], panelLetters[i], 22);

  // first condition and its test map
  drawScalp(lx, cyTop, m.nm, m.nmLv, domain);
  drawDiff(rx, cyTop, m.dt, m.cl);
  label(lx, cyTop - 124.5, "ECnm", 17);
  label(rx, cyTop - 124.5, "Diff (ECnm vs ECpb)", 17);
  const barTop = cyTop + 143.7;
  drawBar(lx - 114.4, barTop, domain, bandTicks[i]);
  drawBar(rx - 114.4, barTop, pDomain, pTicks);
  label(rx + 2, barTop + 37.7, "P-value", 19.5);

  // second condition, FDR corrected test
  drawScalp(lx, cyBottom, m.pb, m.pbLv, domain);
  drawDiff(rx, cyBottom, m.db, []);
  label(lx, cyBottom - 124.5, "ECpb", 17);
  label(rx, cyBottom - 124.5, "Diff (ECnm vs ECpb)", 17);
  const barBottom = cyBottom + 142.7;
  drawBar(lx - 114.4, barBottom, domain, bandTicks[i]);
  drawBar(rx - 114.4, barBottom, pDomain, pTicks);
  label(rx + 1, barBottom + 42, "P-value", 19.5);
  label(rx + 1, barBottom + 64, "(FDRcorrection)", 19.5);
  label(lx - 5, barBottom + 61.3, bandNames[i], 19.5);
});
</script>
</body>
</html>
